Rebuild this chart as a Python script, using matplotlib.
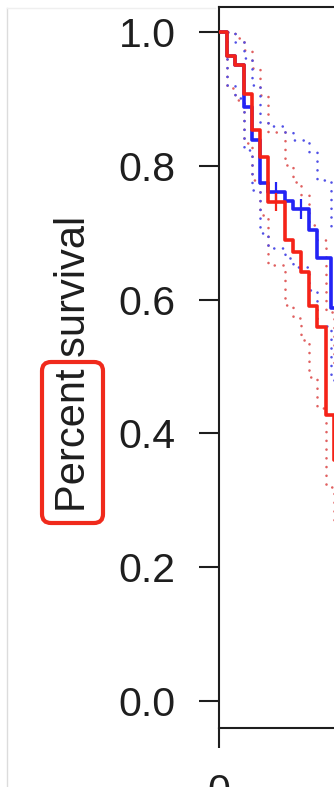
import matplotlib.pyplot as plt
from matplotlib.patches import FancyBboxPatch
from matplotlib.lines import Line2D
from matplotlib.transforms import IdentityTransform

plt.rcParams['font.family'] = ['Liberation Sans', 'DejaVu Sans']

# red group: time, survival, 95% CI
red_t = [0, 1, 2, 3, 4, 5, 6, 8, 9, 10, 11, 12, 13, 14, 16]
red_s = [1.0, 0.964, 0.951, 0.907, 0.854, 0.813, 0.746, 0.689, 0.671, 0.641, 0.590, 0.559, 0.428, 0.360, 0.360]
red_lo = [1.0, 0.916, 0.898, 0.834, 0.779, 0.726, 0.652, 0.592, 0.572, 0.540, 0.484, 0.438, 0.320, 0.263, 0.263]
red_hi = [1.0, 1.0, 0.991, 0.973, 0.946, 0.906, 0.851, 0.801, 0.776, 0.756, 0.711, 0.689, 0.581, 0.502, 0.502]
red_cens_t = [7]
red_cens_s = [0.746]

# blue group
blue_t = [0, 1, 2, 3, 4, 5, 6, 8, 9, 11, 12, 13.6, 16]
blue_s = [1.0, 0.964, 0.951, 0.888, 0.839, 0.774, 0.761, 0.747, 0.735, 0.704, 0.662, 0.587, 0.587]
blue_lo = [1.0, 0.921, 0.901, 0.824, 0.764, 0.700, 0.677, 0.662, 0.649, 0.614, 0.560, 0.480, 0.480]
blue_hi = [1.0, 1.0, 0.985, 0.961, 0.921, 0.865, 0.859, 0.851, 0.839, 0.821, 0.779, 0.707, 0.707]
blue_cens_t = [7, 10]
blue_cens_s = [0.761, 0.735]

yticks = [0.0, 0.2, 0.4, 0.6, 0.8, 1.0]

W, H = 334, 787
fig = plt.figure(figsize=(W / 100, H / 100), dpi=100)
fig.patch.set_facecolor('white')

# axes runs off the right edge of the crop
ax = fig.add_axes([219 / W, 59 / H, 164 / W, 721 / H])
ax.set_xlim(0, 20)
ax.set_ylim(-0.0404, 1.0374)

dot = (0, (0.01, 3.3))
ci = dict(where='post', lw=1.9, ls=dot, dash_capstyle='round', zorder=1)
ax.step(red_t, red_hi, color='#e06060', **ci)
ax.step(red_t, red_lo, color='#e06060', **ci)
ax.step(blue_t, blue_hi, color='#5050e6', **ci)
ax.step(blue_t, blue_lo, color='#5050e6', **ci)

ax.step(blue_t, blue_s, where='post', color='#2323f5', lw=2.6, zorder=2)
ax.plot(blue_cens_t, blue_cens_s, ls='none', marker='|', ms=14, mew=1.6, color='#2323f5', zorder=2)
ax.step(red_t, red_s, where='post', color='#f52318', lw=2.6, zorder=3)
ax.plot(red_cens_t, red_cens_s, ls='none', marker='|', ms=13, mew=1.6, color='#f52318', zorder=3)

for side in ['left', 'bottom', 'top']:
    ax.spines[side].set_linewidth(1.5)
    ax.spines[side].set_color('#1e1e1e')
ax.spines['right'].set_visible(False)

ax.set_yticks(yticks)
ax.set_yticklabels(['%.1f' % v for v in yticks])
ax.set_xticks([0])
ax.set_xticklabels(['0'])
ax.tick_params(length=14.4, width=1.5, color='#1e1e1e', labelsize=29.5,
               labelcolor='#1e1e1e', pad=17)
ax.tick_params(axis='x', pad=18)

fig.text(85 / W, (H - 363.5) / H, 'Percent survival', rotation=90,
         rotation_mode='anchor', ha='center', va='baseline',
         fontsize=30, color='#1e1e1e')

# red highlight box around "Percent"
box = FancyBboxPatch((42, H - 523), 61, 161, boxstyle='round,pad=0,rounding_size=9',
                     transform=IdentityTransform(), fill=False, ec='#f02a1c', lw=3)
fig.add_artist(box)

# screenshot frame
fig.add_artist(Line2D([7, 7], [0, H - 8], transform=IdentityTransform(), color='#dcdcdc', lw=1))
fig.add_artist(Line2D([7, 215], [H - 8, H - 8], transform=IdentityTransform(), color='#efefef', lw=1))

fig.savefig('out.png', dpi=100)
